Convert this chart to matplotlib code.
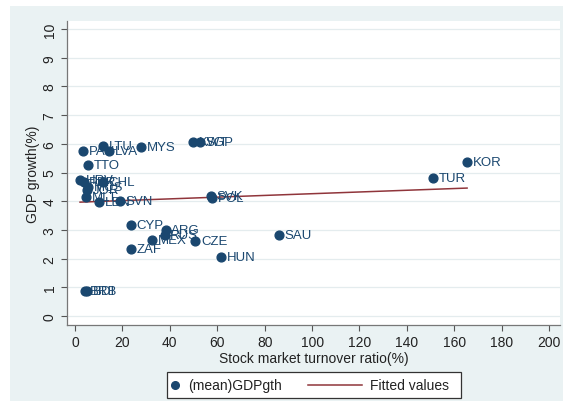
import matplotlib
matplotlib.use('Agg')
import matplotlib.pyplot as plt
from matplotlib.patches import Rectangle
from matplotlib.lines import Line2D

# --- Data ---
COUNTRIES = ['KOR', 'TUR', 'SAU', 'HUN', 'CZE', 'SVK', 'POL', 'KWT', 'SGP',
             'MYS', 'LTU', 'LVA', 'PAN', 'TTO', 'HRV', 'PER', 'CHL', 'MUS',
             'JOR', 'MLT', 'LBN', 'SVN', 'CYP', 'ARG', 'RUS', 'MEX', 'ZAF',
             'BRB', 'BDI']
TURNOVER = [165.4, 151.0, 86.0, 61.6, 50.8, 57.2, 57.8, 49.8, 52.7,
            27.8, 11.8, 14.3, 3.4, 5.5, 2.1, 3.6, 11.8, 5.5,
            5.0, 4.6, 10.1, 19.0, 23.6, 38.3, 37.8, 32.5, 23.6,
            4.0, 5.0]
GDP_GROWTH = [5.37, 4.81, 2.82, 2.06, 2.60, 4.17, 4.12, 6.06, 6.06,
              5.89, 5.92, 5.75, 5.75, 5.26, 4.74, 4.68, 4.68, 4.50,
              4.38, 4.15, 3.97, 4.00, 3.17, 3.00, 2.83, 2.65, 2.33,
              0.86, 0.86]
FIT_Y = [3.97, 4.46]   # fitted values at the min / max turnover

X_TICKS = list(range(0, 201, 20))
Y_TICKS = list(range(0, 11))

NAVY = '#1a476f'
MAROON = '#90353b'
BG = '#eaf2f3'
W, H = 563, 414

plt.rcParams['font.family'] = ['Liberation Sans', 'DejaVu Sans']

fig = plt.figure(figsize=(W / 100, H / 100), dpi=100)
fig.patch.set_facecolor('white')
fig.patches.append(Rectangle((10 / W, 12 / H), 553 / W, 395 / H,
                             transform=fig.transFigure, facecolor=BG,
                             edgecolor='none', zorder=-5))

ax = fig.add_axes([67 / W, 88 / H, 493 / W, 304 / H])
ax.set_facecolor('white')

ax.scatter(TURNOVER, GDP_GROWTH, s=40, color=NAVY, zorder=3)
for name, x, y in zip(COUNTRIES, TURNOVER, GDP_GROWTH):
    ax.annotate(name, (x, y), xytext=(4, 0), textcoords='offset points',
                va='center', ha='left', fontsize=9.5, color=NAVY, zorder=4)

fit_x = [min(TURNOVER), max(TURNOVER)]
ax.plot(fit_x, FIT_Y, color=MAROON, lw=1.1, zorder=2)

ax.set_xlim(-3.4, 204.6)
ax.set_ylim(-0.31, 10.28)
ax.set_xticks(X_TICKS)
ax.set_yticks(Y_TICKS)
ax.set_yticklabels([str(v) for v in Y_TICKS], rotation=90, va='center')
ax.tick_params(axis='both', colors='#555555', labelcolor='#222222',
               labelsize=10, length=4, width=0.8)
ax.grid(axis='y', color='#e4ecee', lw=0.9)
ax.set_axisbelow(True)
for side in ['top', 'right']:
    ax.spines[side].set_visible(False)
for side in ['left', 'bottom']:
    ax.spines[side].set_color('#777777')
    ax.spines[side].set_linewidth(0.9)

ax.set_xlabel('Stock market turnover ratio(%)', fontsize=10, color='#222222',
              labelpad=1)
ax.set_ylabel('GDP growth(%)', fontsize=10, color='#222222', labelpad=2)

# --- Legend box (Stata style: dot then text, line then text) ---
fig.patches.append(Rectangle((167 / W, (H - 399) / H), 294 / W, 26 / H,
                             transform=fig.transFigure, facecolor='white',
                             edgecolor='#333333', lw=0.9, zorder=5))
ly = (H - 386) / H
fig.lines.append(Line2D([175 / W], [ly], transform=fig.transFigure,
                        marker='o', ms=5.5, color=NAVY, ls='none', zorder=6))
fig.text(188 / W, ly, '(mean)GDPgth', fontsize=10, color='#222222',
         va='center', ha='left', zorder=6)
fig.lines.append(Line2D([308 / W, 362 / W], [ly, ly], transform=fig.transFigure,
                        color=MAROON, lw=1.1, zorder=6))
fig.text(370 / W, ly, 'Fitted values', fontsize=10, color='#222222',
         va='center', ha='left', zorder=6)

fig.savefig('out.png', dpi=100, facecolor=fig.get_facecolor())
